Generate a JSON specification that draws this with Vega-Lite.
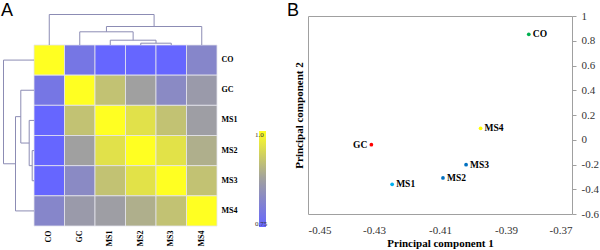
{
  "$schema": "https://vega.github.io/schema/vega-lite/v6.json",
  "padding": {"left": 0, "top": 1, "right": 0, "bottom": 0},
  "autosize": {"type": "pad"},
  "bounds": "flush",
  "center": true,
  "spacing": 91,
  "config": {"font": "Liberation Serif", "view": {"stroke": null}, "axis": {"grid": false}},
  "datasets": {
    "heat": [
      {"row": "CO", "col": "CO", "v": 1}, {"row": "CO", "col": "GC", "v": 0.785}, {"row": "CO", "col": "MS1", "v": 0.75}, {"row": "CO", "col": "MS2", "v": 0.75}, {"row": "CO", "col": "MS3", "v": 0.75}, {"row": "CO", "col": "MS4", "v": 0.82},
      {"row": "GC", "col": "CO", "v": 0.785}, {"row": "GC", "col": "GC", "v": 1}, {"row": "GC", "col": "MS1", "v": 0.92}, {"row": "GC", "col": "MS2", "v": 0.875}, {"row": "GC", "col": "MS3", "v": 0.828}, {"row": "GC", "col": "MS4", "v": 0.862},
      {"row": "MS1", "col": "CO", "v": 0.75}, {"row": "MS1", "col": "GC", "v": 0.92}, {"row": "MS1", "col": "MS1", "v": 1}, {"row": "MS1", "col": "MS2", "v": 0.96}, {"row": "MS1", "col": "MS3", "v": 0.92}, {"row": "MS1", "col": "MS4", "v": 0.87},
      {"row": "MS2", "col": "CO", "v": 0.75}, {"row": "MS2", "col": "GC", "v": 0.875}, {"row": "MS2", "col": "MS1", "v": 0.96}, {"row": "MS2", "col": "MS2", "v": 1}, {"row": "MS2", "col": "MS3", "v": 0.962}, {"row": "MS2", "col": "MS4", "v": 0.895},
      {"row": "MS3", "col": "CO", "v": 0.75}, {"row": "MS3", "col": "GC", "v": 0.828}, {"row": "MS3", "col": "MS1", "v": 0.92}, {"row": "MS3", "col": "MS2", "v": 0.962}, {"row": "MS3", "col": "MS3", "v": 1}, {"row": "MS3", "col": "MS4", "v": 0.92},
      {"row": "MS4", "col": "CO", "v": 0.82}, {"row": "MS4", "col": "GC", "v": 0.862}, {"row": "MS4", "col": "MS1", "v": 0.87}, {"row": "MS4", "col": "MS2", "v": 0.895}, {"row": "MS4", "col": "MS3", "v": 0.92}, {"row": "MS4", "col": "MS4", "v": 1}
    ],
    "dendro": [
      {"pos": 3.5, "pos2": 4.5, "h": 0.018, "h2": 0.018},
      {"pos": 3.5, "pos2": 3.5, "h": 0, "h2": 0.018},
      {"pos": 4.5, "pos2": 4.5, "h": 0, "h2": 0.018},
      {"pos": 2.5, "pos2": 4.0, "h": 0.048, "h2": 0.048},
      {"pos": 2.5, "pos2": 2.5, "h": 0, "h2": 0.048},
      {"pos": 4.0, "pos2": 4.0, "h": 0.018, "h2": 0.048},
      {"pos": 1.5, "pos2": 3.25, "h": 0.132, "h2": 0.132},
      {"pos": 1.5, "pos2": 1.5, "h": 0, "h2": 0.132},
      {"pos": 3.25, "pos2": 3.25, "h": 0.048, "h2": 0.132},
      {"pos": 2.375, "pos2": 5.5, "h": 0.185, "h2": 0.185},
      {"pos": 2.375, "pos2": 2.375, "h": 0.132, "h2": 0.185},
      {"pos": 5.5, "pos2": 5.5, "h": 0, "h2": 0.185},
      {"pos": 0.5, "pos2": 3.9375, "h": 0.305, "h2": 0.305},
      {"pos": 0.5, "pos2": 0.5, "h": 0, "h2": 0.305},
      {"pos": 3.9375, "pos2": 3.9375, "h": 0.185, "h2": 0.305}
    ],
    "pca": [
      {"name": "CO", "pc1": -0.3831, "pc2": 0.852},
      {"name": "MS4", "pc1": -0.3977, "pc2": 0.0925},
      {"name": "GC", "pc1": -0.4308, "pc2": -0.04},
      {"name": "MS3", "pc1": -0.4021, "pc2": -0.2016},
      {"name": "MS2", "pc1": -0.4091, "pc2": -0.309},
      {"name": "MS1", "pc1": -0.4245, "pc2": -0.36}
    ]
  },
  "hconcat": [
    {
      "width": 217,
      "height": 222,
      "title": {"text": "A", "anchor": "start", "frame": "group", "dx": 1, "offset": -30, "baseline": "alphabetic", "font": "Liberation Sans", "fontSize": 18, "fontWeight": "normal", "color": "#000"},
      "layer": [
        {
          "data": {"name": "heat"},
          "mark": {"type": "rect", "stroke": "#e4e4ee", "strokeWidth": 0.8},
          "encoding": {
            "x": {"field": "col", "type": "nominal", "sort": ["CO", "GC", "MS1", "MS2", "MS3", "MS4"],
              "scale": {"domain": ["CO", "GC", "MS1", "MS2", "MS3", "MS4"], "paddingInner": 0, "paddingOuter": 0.5574, "align": 1},
              "axis": {"orient": "bottom", "title": null, "labelAngle": -90, "domain": false, "ticks": false, "labelPadding": 4, "labelFont": "Liberation Serif", "labelFontWeight": "bold", "labelFontSize": 8, "labelColor": "#000"}},
            "y": {"field": "row", "type": "nominal", "sort": ["CO", "GC", "MS1", "MS2", "MS3", "MS4"],
              "scale": {"domain": ["CO", "GC", "MS1", "MS2", "MS3", "MS4"], "paddingInner": 0, "paddingOuter": 0.6795, "align": 1},
              "axis": {"orient": "right", "title": null, "domain": false, "ticks": false, "labelPadding": 4, "labelFont": "Liberation Serif", "labelFontWeight": "bold", "labelFontSize": 8, "labelColor": "#000"}},
            "color": {"field": "v", "type": "quantitative",
              "scale": {"type": "linear", "domain": [0.75, 0.875, 1], "range": ["#6666ff", "#a0a0a0", "#ffff22"], "interpolate": "rgb"},
              "legend": {"title": null, "orient": "none", "legendX": 259, "legendY": 127, "direction": "vertical", "gradientLength": 96, "gradientThickness": 7, "gradientStrokeWidth": 0, "values": [0.75, 1], "labelAlign": "right", "labelOffset": -11, "labelFont": "Liberation Serif", "labelFontSize": 7, "labelColor": "#333", "padding": 0, "labelExpr": "datum.value >= 1 ? '1.0' : '0.75'"}}
          }
        },
        {
          "data": {"name": "dendro"},
          "mark": {"type": "rule", "color": "#8c8cb4", "strokeWidth": 1},
          "encoding": {
            "x": {"field": "pos", "type": "quantitative", "scale": {"domain": [-1.115, 6], "nice": false, "zero": false}, "axis": null},
            "x2": {"field": "pos2"},
            "y": {"field": "h", "type": "quantitative", "scale": {"domain": [-1.81, 0.41], "nice": false, "zero": false}, "axis": null},
            "y2": {"field": "h2"}
          }
        },
        {
          "data": {"name": "dendro"},
          "mark": {"type": "rule", "color": "#8c8cb4", "strokeWidth": 1},
          "encoding": {
            "x": {"field": "h", "type": "quantitative", "scale": {"domain": [-1.83, 0.34], "reverse": true, "nice": false, "zero": false}, "axis": null},
            "x2": {"field": "h2"},
            "y": {"field": "pos", "type": "quantitative", "scale": {"domain": [-1.359, 6], "reverse": true, "nice": false, "zero": false}, "axis": null},
            "y2": {"field": "pos2"}
          }
        }
      ],
      "resolve": {"scale": {"x": "independent", "y": "independent"}, "axis": {"x": "independent", "y": "independent"}}
    },
    {
      "width": 264,
      "height": 198,
      "view": {"stroke": "#a0a0a0"},
      "title": {"text": "B", "anchor": "start", "frame": "group", "dx": -21, "offset": -24, "baseline": "alphabetic", "font": "Liberation Sans", "fontSize": 18, "fontWeight": "normal", "color": "#000"},
      "data": {"name": "pca"},
      "layer": [
        {
          "mark": {"type": "point", "filled": true, "size": 14, "opacity": 1},
          "encoding": {
            "x": {"field": "pc1", "type": "quantitative", "scale": {"domain": [-0.45, -0.37], "nice": false, "zero": false},
              "axis": {"orient": "bottom", "values": [-0.45, -0.43, -0.41, -0.39, -0.37], "labelExpr": "replace(format(datum.value, '.2f'), '\u2212', '-')", "title": "Principal component 1", "domain": false, "ticks": false, "labelPadding": 10, "labelFont": "Liberation Serif", "labelFontSize": 11, "labelColor": "#333", "titleFont": "Liberation Serif", "titleFontSize": 11, "titleFontWeight": "bold", "titleColor": "#000", "titlePadding": 2}},
            "y": {"field": "pc2", "type": "quantitative", "scale": {"domain": [-0.6, 1], "nice": false, "zero": false},
              "axis": {"orient": "right", "values": [-0.6, -0.4, -0.2, 0, 0.2, 0.4, 0.6, 0.8, 1], "labelExpr": "replace(format(datum.value, '.1~f'), '\u2212', '-')", "title": null, "domain": false, "ticks": true, "tickSize": 4, "tickColor": "#a0a0a0", "labelPadding": 5, "labelFont": "Liberation Serif", "labelFontSize": 11, "labelColor": "#333"}},
            "color": {"field": "name", "type": "nominal", "scale": {"domain": ["CO", "GC", "MS1", "MS2", "MS3", "MS4"], "range": ["#00b050", "#ff0000", "#00b0f0", "#0070c0", "#0070c0", "#ffff00"]}, "legend": null}
          }
        },
        {
          "transform": [{"filter": "datum.name != 'GC'"}],
          "mark": {"type": "text", "align": "left", "baseline": "middle", "dx": 4, "font": "Liberation Serif", "fontSize": 9.5, "fontWeight": "bold", "color": "#000"},
          "encoding": {
            "x": {"field": "pc1", "type": "quantitative"},
            "y": {"field": "pc2", "type": "quantitative", "axis": null},
            "text": {"field": "name"}
          }
        },
        {
          "transform": [{"filter": "datum.name == 'GC'"}],
          "mark": {"type": "text", "align": "right", "baseline": "middle", "dx": -4, "font": "Liberation Serif", "fontSize": 9.5, "fontWeight": "bold", "color": "#000"},
          "encoding": {
            "x": {"field": "pc1", "type": "quantitative"},
            "y": {"field": "pc2", "type": "quantitative", "axis": {"orient": "left", "title": "Principal component 2", "labels": false, "ticks": false, "domain": false, "titlePadding": 4, "titleFont": "Liberation Serif", "titleFontSize": 11, "titleFontWeight": "bold", "titleColor": "#000"}},
            "text": {"field": "name"}
          }
        }
      ],
      "resolve": {"axis": {"y": "independent"}}
    }
  ]
}
